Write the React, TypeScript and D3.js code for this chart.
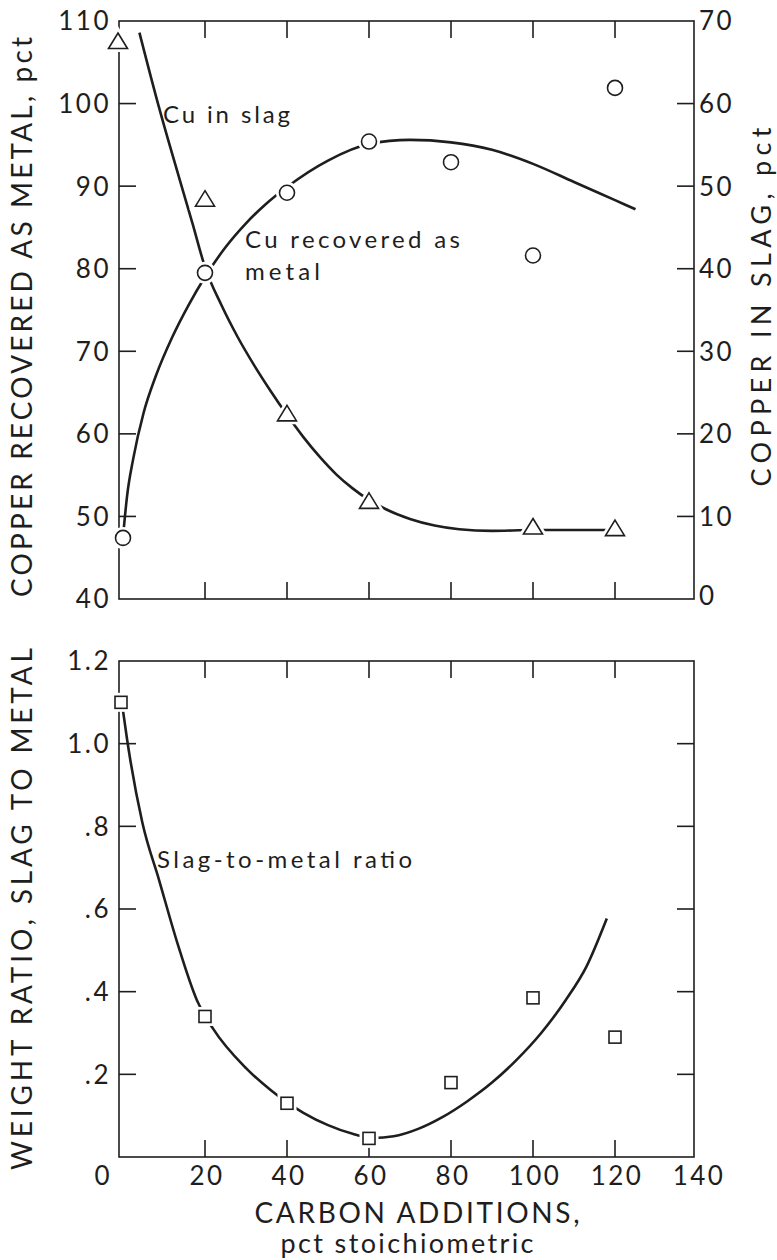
import * as d3 from 'd3';

// carbon additions, pct stoichiometric
const carbonX = [0, 20, 40, 60, 80, 100, 120];
// Cu recovered as metal, pct (circles, left axis)
const cuRecovered = [47.4, 79.5, 89.2, 95.4, 92.9, 81.6, 101.9];
// Cu in slag, pct (triangles, right axis)
const slagX = [0, 20, 40, 60, 100, 120];
const cuInSlag = [67.4, 48.3, 22.3, 11.7, 8.6, 8.4];
// weight ratio slag to metal (squares)
const slagRatio = [1.1, 0.34, 0.13, 0.045, 0.18, 0.385, 0.29];

// hand-drawn fitted curves
const recCurveX = [0, 1, 2.5, 5, 8, 12, 16, 20, 25, 30, 35, 40, 50, 60, 70, 80, 90, 100, 110, 120, 125];
const recCurveY = [47.5, 52.5, 57, 62.5, 67, 71.7, 75.6, 79, 82.6, 85.5, 87.9, 89.9, 93.1, 95.1, 95.6, 95.3, 94.4, 92.7, 90.5, 88.3, 87.2];
const slagCurveX = [4, 8.8, 13.7, 17, 20, 24, 28, 32, 36, 40, 44, 48, 52, 56, 60, 64, 70, 76, 82, 90, 100, 120];
const slagCurveY = [68.6, 59.5, 51, 45.4, 40.2, 35.6, 31.7, 28.3, 25.2, 22.3, 19.6, 17.2, 15.1, 13.4, 12, 10.9, 9.7, 8.9, 8.45, 8.25, 8.35, 8.35];
const ratioCurveX = [0, 1, 4.7, 8.8, 13.5, 18, 22, 30, 36, 40, 44, 50, 56, 61, 66, 72, 78, 84, 90, 96, 102, 108, 113, 118];
const ratioCurveY = [1.08, 1.01, 0.81, 0.67, 0.51, 0.38, 0.31, 0.215, 0.162, 0.132, 0.107, 0.077, 0.056, 0.046, 0.05, 0.068, 0.097, 0.135, 0.18, 0.235, 0.3, 0.38, 0.46, 0.577];

const xTicks = [20, 40, 60, 80, 100, 120];
const xLabels = [20, 40, 60, 80, 100, 120, 140];
const leftTicksTop = [50, 60, 70, 80, 90, 100];
const leftLabelsTop = [40, 50, 60, 70, 80, 90, 100, 110];
const rightTicksTop = [10, 20, 30, 40, 50, 60];
const rightLabelsTop = [0, 10, 20, 30, 40, 50, 60, 70];
const ratioTicks = [0.2, 0.4, 0.6, 0.8, 1.0];
const ratioLabels = [0.2, 0.4, 0.6, 0.8, 1.0, 1.2];

const INK = '#1e1e1e';
const FONT = 'Lato, "Open Sans", sans-serif';

const L = 119, R = 694;
const topT = 21, topB = 599;
const botT = 661, botB = 1157;
const TICK = 17;

const x = d3.scaleLinear().domain([0, 140]).range([123, 697]);
const yLeft = d3.scaleLinear().domain([40, 110]).range([topB, topT]);
const yRight = d3.scaleLinear().domain([0, 70]).range([topB, topT]);
const yRatio = d3.scaleLinear().domain([0, 1.2]).range([botB, botT]);

const fmtRatio = (v: number) => (v >= 1 ? v.toFixed(1) : v.toFixed(1).replace(/^0/, ''));

function curve(xs: number[], ys: number[], ys2: d3.ScaleLinear<number, number>) {
  const pts: [number, number][] = xs.map((v, i) => [x(v), ys2(ys[i])]);
  return d3.line().curve(d3.curveMonotoneX)(pts) || '';
}

const triPath = 'M0,-9.5L9.5,6L-9.5,6Z';

function Frame({ t, b, leftTicks, rightTicks, yl, yr }: any) {
  return (
    <g stroke={INK} strokeWidth={1.6} fill="none">
      <rect x={L} y={t} width={R - L} height={b - t} />
      {xTicks.map(v => (
        <g key={'x' + v}>
          <line x1={x(v)} x2={x(v)} y1={t} y2={t + TICK} />
          <line x1={x(v)} x2={x(v)} y1={b} y2={b - TICK} />
        </g>
      ))}
      {leftTicks.map((v: number) => (
        <line key={'l' + v} x1={L} x2={L + TICK} y1={yl(v)} y2={yl(v)} />
      ))}
      {rightTicks.map((v: number) => (
        <line key={'r' + v} x1={R} x2={R - TICK} y1={yr(v)} y2={yr(v)} />
      ))}
    </g>
  );
}

const tickText = { fontFamily: FONT, fontSize: 26, fill: INK, letterSpacing: 2.5 } as const;
const annText = { fontFamily: FONT, fontSize: 24, fill: INK } as const;
const titleText = { fontFamily: FONT, fontSize: 28, fill: INK } as const;

export default function App() {
  return (
    <div style={{ position: 'absolute', left: 0, top: 0 }}>
      <svg width={777} height={1260} style={{ display: 'block', background: '#fff' }}>
        {/* ---------- top panel ---------- */}
        <Frame t={topT} b={topB} leftTicks={leftTicksTop} rightTicks={rightTicksTop} yl={yLeft} yr={yRight} />
        {leftLabelsTop.map(v => (
          <text key={v} x={111} y={yLeft(v)} dy="0.36em" textAnchor="end" {...tickText}>{v}</text>
        ))}
        {rightLabelsTop.map(v => (
          <text key={v} x={699} y={yRight(v) - (v === 0 ? 3 : 0)} dy="0.36em" textAnchor="start" {...tickText}>{v}</text>
        ))}

        <path d={curve(recCurveX, recCurveY, yLeft)} fill="none" stroke={INK} strokeWidth={2.6} />
        <path d={curve(slagCurveX, slagCurveY, yRight)} fill="none" stroke={INK} strokeWidth={2.6} />

        {carbonX.map((v, i) => (
          <g key={'c' + v} transform={`translate(${x(v)},${yLeft(cuRecovered[i])})`}>
            <circle r={7.5} fill="#fff" stroke="#fff" strokeWidth={7} />
            <circle r={7.5} fill="#fff" stroke={INK} strokeWidth={1.6} />
          </g>
        ))}
        {slagX.map((v, i) => (
          <g key={'t' + v} transform={`translate(${x(v) - (v === 0 ? 5 : 0)},${yRight(cuInSlag[i])})`}>
            <path d={triPath} fill="#fff" stroke="#fff" strokeWidth={7} />
            <path d={triPath} fill="#fff" stroke={INK} strokeWidth={1.6} />
          </g>
        ))}

        <text x={163} y={123} textLength={127} lengthAdjust="spacing" {...annText}>Cu in slag</text>
        <text x={245} y={248} textLength={215} lengthAdjust="spacing" {...annText}>Cu recovered as</text>
        <text x={245} y={280} textLength={75} lengthAdjust="spacing" {...annText}>metal</text>

        <text transform="translate(32,317) rotate(-90)" textAnchor="middle" textLength={560} lengthAdjust="spacing" {...titleText}>
          COPPER RECOVERED AS METAL, pct
        </text>
        <text transform="translate(771,307) rotate(-90)" textAnchor="middle" textLength={359} lengthAdjust="spacing" {...titleText} fontSize={27}>
          COPPER IN SLAG, pct
        </text>

        {/* ---------- bottom panel ---------- */}
        <Frame t={botT} b={botB} leftTicks={ratioTicks} rightTicks={ratioTicks} yl={yRatio} yr={yRatio} />
        {ratioLabels.map(v => (
          <text key={v} x={111} y={yRatio(v)} dy="0.36em" textAnchor="end" {...tickText}>{fmtRatio(v)}</text>
        ))}
        <text x={112} y={1176} dy="0.36em" textAnchor="end" {...tickText}>0</text>
        {xLabels.map(v => (
          <text key={v} x={x(v) + 2} y={1176} dy="0.36em" textAnchor="middle" {...tickText}>{v}</text>
        ))}

        <path d={curve(ratioCurveX, ratioCurveY, yRatio)} fill="none" stroke={INK} strokeWidth={2.6} />
        {carbonX.map((v, i) => (
          <g key={'s' + v} transform={`translate(${x(v) - (v === 0 ? 2 : 0)},${yRatio(slagRatio[i])})`}>
            <rect x={-6} y={-6} width={12} height={12} fill="#fff" stroke="#fff" strokeWidth={7} />
            <rect x={-6} y={-6} width={12} height={12} fill="#fff" stroke={INK} strokeWidth={1.6} />
          </g>
        ))}

        <text x={157} y={868} textLength={255} lengthAdjust="spacing" {...annText}>Slag-to-metal ratio</text>

        <text transform="translate(32,909) rotate(-90)" textAnchor="middle" textLength={522} lengthAdjust="spacing" {...titleText}>
          WEIGHT RATIO, SLAG TO METAL
        </text>
        <text x={417} y={1223} textAnchor="middle" textLength={325} lengthAdjust="spacing" {...titleText}>
          CARBON ADDITIONS,
        </text>
        <text x={407} y={1253} textAnchor="middle" textLength={253} lengthAdjust="spacing" {...titleText} fontSize={27}>
          pct stoichiometric
        </text>
      </svg>
    </div>
  );
}
